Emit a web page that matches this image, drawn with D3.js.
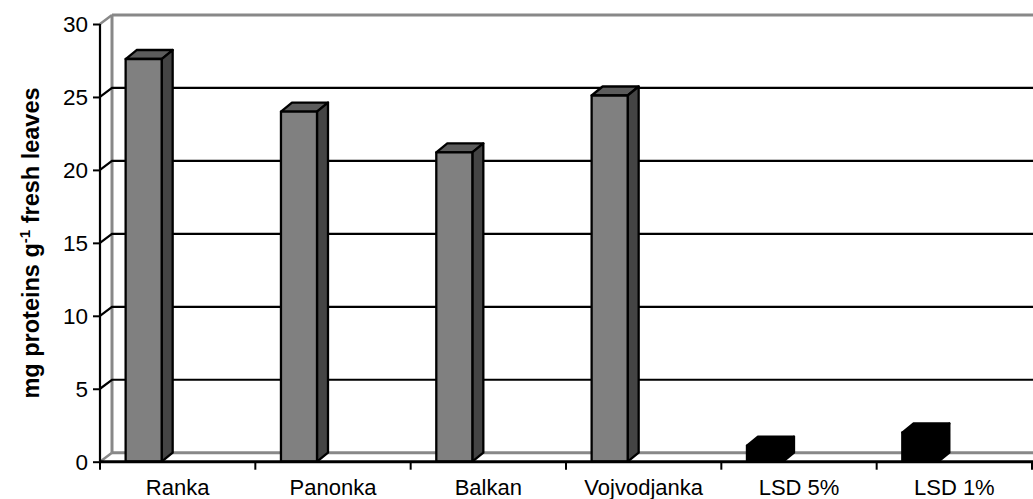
<!DOCTYPE html>
<html><head><meta charset="utf-8">
<script src="https://cdn.jsdelivr.net/npm/d3@7"></script>
<style>html,body{margin:0;padding:0;background:#fff;}svg{display:block;}</style>
</head><body><svg id="c" width="1033" height="499"></svg>
<script>
const categories = ["Ranka", "Panonka", "Balkan", "Vojvodjanka", "LSD 5%", "LSD 1%"];
const proteinValues = [27.6, 24.0, 21.2, 25.1, null, null];
const lsdValues = [null, null, null, null, 1.1, 2.0];
const yTicks = [0, 5, 10, 15, 20, 25, 30];
const yLabel = "mg proteins g";
const yLabelSup = "-1";
const yLabelEnd = " fresh leaves";

const svg = d3.select("#c");
const W = 1033;
const FONT = "Liberation Sans, Arial, sans-serif";
const x = d3.scaleBand().domain(categories).range([100, 1032]).padding(0);
const y = d3.scaleLinear().domain([0, 30]).range([461.7, 24]);
const wdx = 12, wdy = -9;   // wall depth
const bdx = 11, bdy = -9;   // bar depth
const bw = x.bandwidth();

// back wall top edge and left edge
const gWall = svg.append("g");
gWall.append("line").attr("x1", 100 + wdx).attr("x2", W).attr("y1", y(30) + wdy).attr("y2", y(30) + wdy)
  .attr("stroke", "#888").attr("stroke-width", 3);
gWall.append("line").attr("x1", 100).attr("y1", y(30)).attr("x2", 100 + wdx).attr("y2", y(30) + wdy)
  .attr("stroke", "#888").attr("stroke-width", 2.5);
gWall.append("line").attr("x1", 100 + wdx).attr("x2", 100 + wdx).attr("y1", y(30) + wdy).attr("y2", y(0) + wdy)
  .attr("stroke", "#888").attr("stroke-width", 3);
// floor back edge and left diagonal
gWall.append("line").attr("x1", 100 + wdx).attr("x2", W).attr("y1", y(0) + wdy).attr("y2", y(0) + wdy)
  .attr("stroke", "#888").attr("stroke-width", 3);
gWall.append("line").attr("x1", 100).attr("y1", y(0)).attr("x2", 100 + wdx).attr("y2", y(0) + wdy)
  .attr("stroke", "#888").attr("stroke-width", 2.5);

// gridlines
const grid = yTicks.filter(t => t > 0 && t < 30);
const gGrid = svg.append("g");
gGrid.selectAll("path").data(grid).join("path")
  .attr("d", t => `M100,${y(t)}L${100 + wdx},${y(t) + wdy}L${W},${y(t) + wdy}`)
  .attr("fill", "none").attr("stroke", "#000").attr("stroke-width", 2.2);

// bars
const bars = [];
categories.forEach((c, i) => {
  if (proteinValues[i] != null) bars.push({c, v: proteinValues[i], kind: "p"});
  if (lsdValues[i] != null) bars.push({c, v: lsdValues[i], kind: "l"});
});
const fill = {p: {front: "#808080", side: "#444", top: "#5c5c5c"}, l: {front: "#000", side: "#000", top: "#000"}};
const gBars = svg.append("g").attr("stroke", "#000").attr("stroke-width", 2.3).attr("stroke-linejoin", "round");
bars.forEach(b => {
  const x0 = x(b.c) + bw * 0.165, w = bw * 0.232;
  const yt = y(b.v), yb = y(0);
  const g = gBars.append("g");
  g.append("path").attr("d", `M${x0},${yt}L${x0 + bdx},${yt + bdy}L${x0 + w + bdx},${yt + bdy}L${x0 + w},${yt}Z`).attr("fill", fill[b.kind].top);
  g.append("path").attr("d", `M${x0 + w},${yt}L${x0 + w + bdx},${yt + bdy}L${x0 + w + bdx},${yb + bdy}L${x0 + w},${yb}Z`).attr("fill", fill[b.kind].side);
  g.append("rect").attr("x", x0).attr("y", yt).attr("width", w).attr("height", yb - yt).attr("fill", fill[b.kind].front);
});

// y axis
const yAxis = svg.append("g").attr("transform", "translate(100,0)")
  .call(d3.axisLeft(y).tickValues(yTicks).tickSize(7).tickPadding(5).tickFormat(d3.format("d")));
yAxis.select(".domain").attr("stroke", "#000").attr("stroke-width", 2.2).attr("d", `M0,${y(0)}V${y(30)}`);
yAxis.selectAll(".tick line").attr("stroke", "#000").attr("stroke-width", 2);
yAxis.selectAll(".tick text").attr("font-family", FONT).attr("font-size", 22.5).attr("fill", "#000").attr("dy", "0.35em");

// x axis
svg.append("line").attr("x1", 100).attr("x2", W).attr("y1", y(0)).attr("y2", y(0)).attr("stroke", "#000").attr("stroke-width", 3);
const bounds = categories.map(c => x(c)).concat([x.range()[1]]);
svg.append("g").selectAll("line").data(bounds).join("line")
  .attr("x1", d => d).attr("x2", d => d).attr("y1", y(0)).attr("y2", y(0) + 8)
  .attr("stroke", "#000").attr("stroke-width", 2);
svg.append("g").selectAll("text").data(categories).join("text")
  .attr("x", c => x(c) + bw / 2).attr("y", 495)
  .attr("text-anchor", "middle").attr("font-family", FONT).attr("font-size", 22)
  .text(c => c);

// y label
const lab = svg.append("text").attr("transform", "translate(39,243) rotate(-90)")
  .attr("text-anchor", "middle").attr("font-family", FONT)
  .attr("font-weight", "bold").attr("font-size", 23.5);
lab.append("tspan").text(yLabel);
lab.append("tspan").attr("dy", -9).attr("font-size", 15).text(yLabelSup);
lab.append("tspan").attr("dy", 9).text(yLabelEnd);
</script></body></html>
